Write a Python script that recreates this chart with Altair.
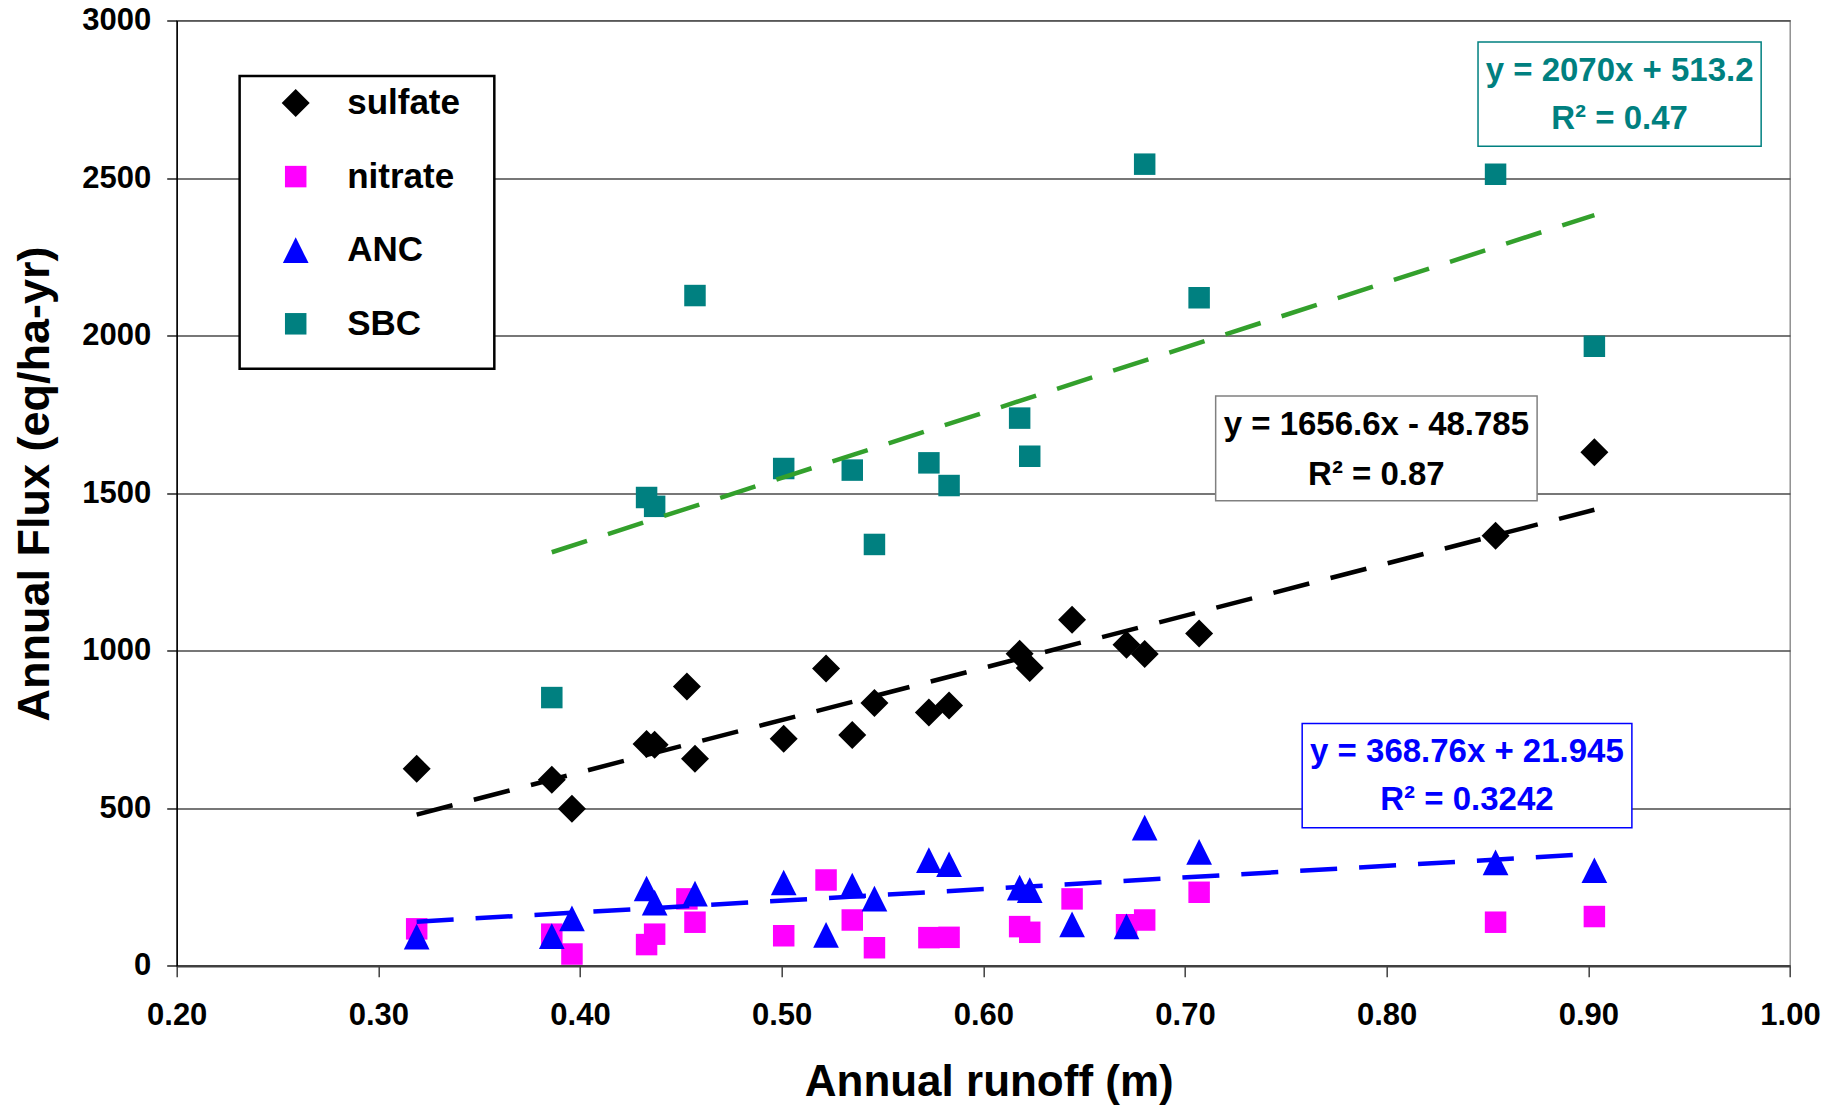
import altair as alt
import pandas as pd

FONT = "Liberation Sans, Arial, Helvetica, sans-serif"

# ---------------- data ----------------
runoff = [0.319, 0.386, 0.396, 0.433, 0.437, 0.453, 0.457, 0.501, 0.522, 0.535, 0.546,
          0.573, 0.583, 0.618, 0.623, 0.644, 0.671, 0.680, 0.707, 0.854, 0.903]
sulfate = [625, 590, 498, 704, 701, 886, 657, 720, 943, 732, 834,
           804, 826, 990, 945, 1098, 1019, 989, 1054, 1365, 1630]
nitrate = [117, 100, 37, 67, 100, 212, 138, 95, 272, 145, 57,
           89, 90, 124, 106, 212, 130, 145, 233, 138, 156]
anc = [92, 94, 150, 245, 200, None, 229, 264, 98, 254, 213,
       335, 322, 248, 240, 131, 125, 438, 361, 328, 303]
sbc = [None, 851, None, 1486, 1458, None, 2127, 1578, None, 1573, 1337,
       1596, 1524, 1738, 1617, None, None, 2544, 2120, 2512, 1966]

series_names = ["sulfate", "nitrate", "ANC", "SBC"]
series_values = [sulfate, nitrate, anc, sbc]
point_colors = ["#000000", "#FF00FF", "#0000FF", "#008080"]
point_shapes = ["diamond", "square", "M0,-1L1,1L-1,1Z", "square"]
point_sizes = [784, 462, 660, 462]

# trend lines (Excel linear fits, as printed on the chart)
trend_series = ["sulfate", "ANC", "SBC"]
trend_slopes = [1656.6, 368.76, 2070.0]
trend_intercepts = [-48.785, 21.945, 513.2]
trend_colors = ["#000000", "#0000FF", "#33A02C"]

# equation labels
eq_line1 = ["y = 1656.6x - 48.785", "y = 368.76x + 21.945", "y = 2070x + 513.2"]
eq_line2 = ["R² = 0.87", "R² = 0.3242", "R² = 0.47"]
eq_text_colors = ["#000000", "#0000FF", "#008080"]
eq_box_colors = ["#808080", "#0000FF", "#008080"]
# annotation placement (data units)
eq_box_x = [0.7152, 0.7581, 0.8453]
eq_box_x2 = [0.8746, 0.9216, 0.9857]
eq_box_y = [1808, 769, 2932]
eq_box_y2 = [1476, 438, 2601]
eq_text_x = [0.7949, 0.8398, 0.9155]
eq_text_y1 = [1683, 647, 2807]
eq_text_y2 = [1527, 493, 2655]
legend_box = dict(x=[0.2312], x2=[0.3575], y=[2824], y2=[1895])

x_ticks = [0.2, 0.3, 0.4, 0.5, 0.6, 0.7, 0.8, 0.9, 1.0]
y_ticks = [0, 500, 1000, 1500, 2000, 2500, 3000]

# ---------------- tables ----------------
rows = []
for name, vals in zip(series_names, series_values):
    for xv, yv in zip(runoff, vals):
        if yv is not None:
            rows.append({"series": name, "runoff": xv, "flux": yv})
pts = pd.DataFrame(rows)

trows = []
for name, m, b, c in zip(trend_series, trend_slopes, trend_intercepts, trend_colors):
    xs_ = pts.loc[pts.series == name, "runoff"]
    for xv in (xs_.min(), xs_.max()):
        trows.append({"series": name, "x": xv, "y": m * xv + b, "lc": c})
trend = pd.DataFrame(trows)

boxes = pd.DataFrame({"x": eq_box_x, "x2": eq_box_x2, "y": eq_box_y, "y2": eq_box_y2,
                      "bc": eq_box_colors})
texts = pd.DataFrame({
    "x": eq_text_x + eq_text_x,
    "y": eq_text_y1 + eq_text_y2,
    "t": eq_line1 + eq_line2,
    "tc": eq_text_colors + eq_text_colors,
})
lbox = pd.DataFrame(legend_box)

# ---------------- scales / axes ----------------
xs = alt.Scale(domain=[0.2, 1.0], nice=False, zero=False)
ys = alt.Scale(domain=[0, 3000], nice=False, zero=False)

xaxis = alt.Axis(values=x_ticks, format=".2f", title="Annual runoff (m)", grid=False,
                 tickSize=11, tickColor="#404040", tickWidth=1.5,
                 domainColor="#404040", domainWidth=2.5,
                 labelFont=FONT, labelFontSize=31, labelFontWeight="bold", labelColor="black",
                 labelPadding=24, labelFlush=False, labelOverlap=False,
                 titleFont=FONT, titleFontSize=44, titleFontWeight="bold", titleColor="black",
                 titleBaseline="alphabetic", titleY=130, titleX=812)
yaxis = alt.Axis(values=y_ticks, format="d", title="Annual Flux (eq/ha-yr)", grid=True,
                 gridColor="#4a4a4a", gridWidth=1.3,
                 tickSize=10, tickColor="black", tickWidth=1.3,
                 domainColor="black", domainWidth=1.5,
                 labelFont=FONT, labelFontSize=31, labelFontWeight="bold", labelColor="black",
                 labelPadding=16, labelFlush=False, labelOverlap=False,
                 titleFont=FONT, titleFontSize=45, titleFontWeight="bold", titleColor="black",
                 titleAngle=270, titleBaseline="alphabetic", titleAlign="center",
                 titleX=-128, titleY=463)

leg = alt.Legend(orient="none", legendX=80, legendY=65, title=None, padding=0,
                 rowPadding=37.6, symbolOffset=21.5, labelOffset=34,
                 labelFont=FONT, labelFontSize=35, labelFontWeight="bold", labelColor="black",
                 symbolStrokeWidth=0, symbolOpacity=1)

# ---------------- layers ----------------
legend_rect = alt.Chart(lbox).mark_rect(fill="white", stroke="black", strokeWidth=2.5).encode(
    x=alt.X("x:Q", scale=xs, axis=xaxis), x2="x2:Q",
    y=alt.Y("y:Q", scale=ys, axis=yaxis), y2="y2:Q")

points = alt.Chart(pts).mark_point(filled=True, opacity=1, strokeWidth=0).encode(
    x=alt.X("runoff:Q", scale=xs, axis=xaxis),
    y=alt.Y("flux:Q", scale=ys, axis=yaxis),
    color=alt.Color("series:N", scale=alt.Scale(domain=series_names, range=point_colors),
                    legend=leg, sort=series_names),
    shape=alt.Shape("series:N", scale=alt.Scale(domain=series_names, range=point_shapes),
                    legend=leg, sort=series_names),
    size=alt.Size("series:N", scale=alt.Scale(type="ordinal", domain=series_names,
                                              range=point_sizes),
                  legend=leg, sort=series_names),
)

lines = alt.Chart(trend).mark_line(strokeDash=[37, 22], strokeWidth=4.5, strokeCap="butt").encode(
    x=alt.X("x:Q", scale=xs, axis=xaxis),
    y=alt.Y("y:Q", scale=ys, axis=yaxis),
    detail="series:N",
    stroke=alt.Stroke("lc:N", scale=None),
)

eq_boxes = alt.Chart(boxes).mark_rect(fill="white", strokeWidth=1.5).encode(
    x=alt.X("x:Q", scale=xs, axis=xaxis), x2="x2:Q",
    y=alt.Y("y:Q", scale=ys, axis=yaxis), y2="y2:Q",
    stroke=alt.Stroke("bc:N", scale=None),
)

eq_texts = alt.Chart(texts).mark_text(font=FONT, fontSize=33, fontWeight="bold",
                                      align="center", baseline="alphabetic").encode(
    x=alt.X("x:Q", scale=xs, axis=xaxis),
    y=alt.Y("y:Q", scale=ys, axis=yaxis),
    text="t:N",
    fill=alt.Fill("tc:N", scale=None),
)

chart = alt.layer(legend_rect, points, lines, eq_boxes, eq_texts).properties(
    width=1613.3, height=945.2,
    autosize=alt.AutoSizeParams(type="none"),
    padding={"left": 168.7, "top": 12.5, "right": 45, "bottom": 140},
    background="white",
).configure_view(stroke="#808080", strokeWidth=1.3)

chart.save("out.html", embed_options={"renderer": "svg", "actions": False})
